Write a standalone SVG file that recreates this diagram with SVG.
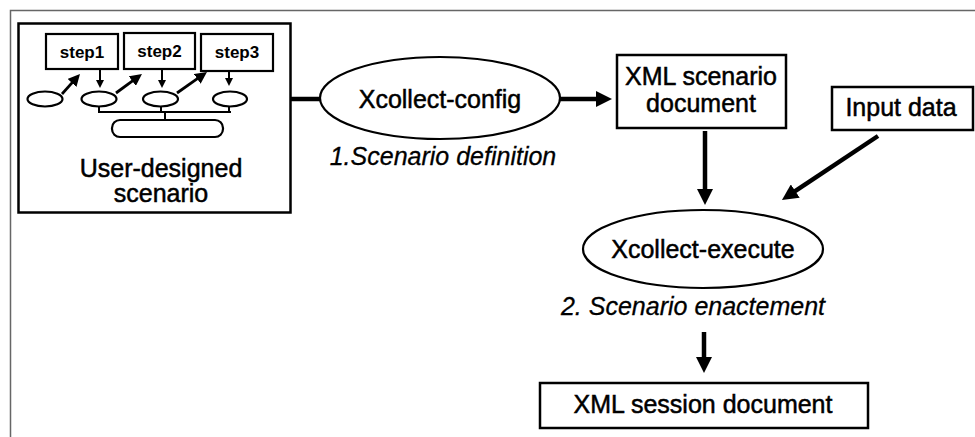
<svg xmlns="http://www.w3.org/2000/svg" width="975" height="437" viewBox="0 0 975 437">
<defs>
<style>
text{font-family:"Liberation Sans",Arial,sans-serif;fill:#000;text-anchor:middle}
.lbl{font-size:25px;stroke:#000;stroke-width:0.5}
.it{font-size:25px;font-style:italic;stroke:#000;stroke-width:0.3}
.step{font-size:17px;font-weight:bold}
.box{fill:#fff;stroke:#000;stroke-width:2.5}
.sbox{fill:#fff;stroke:#000;stroke-width:2.2}
.ell{fill:#fff;stroke:#000;stroke-width:2.2}
.thick{fill:none;stroke:#000;stroke-width:4.5}
.mid{fill:none;stroke:#000;stroke-width:2.8}
.thin{fill:none;stroke:#000;stroke-width:2}
</style>
<marker id="big" viewBox="0 0 16 16" refX="2" refY="8" markerWidth="16" markerHeight="16" markerUnits="userSpaceOnUse" orient="auto"><path d="M0,0 L16,8 L0,16 z" fill="#000"/></marker>
<marker id="med" viewBox="0 0 12 12" refX="2" refY="6" markerWidth="12" markerHeight="12" markerUnits="userSpaceOnUse" orient="auto"><path d="M0,0 L12,6 L0,12 z" fill="#000"/></marker>
<marker id="sm" viewBox="0 0 8 8" refX="1" refY="4" markerWidth="8" markerHeight="8" markerUnits="userSpaceOnUse" orient="auto"><path d="M0,0 L8,4 L0,8 z" fill="#000"/></marker>
</defs>
<rect width="975" height="437" fill="#fff"/>
<path d="M10.5,437 V10.5 H975" fill="none" stroke="#666" stroke-width="1.5"/>
<g id="connectors">
<line class="thick" x1="291" y1="99" x2="320" y2="99"/>
<line class="thick" x1="560" y1="99" x2="598" y2="99" marker-end="url(#big)"/>
<line class="thick" x1="705" y1="131" x2="705" y2="191" marker-end="url(#big)"/>
<line class="thick" x1="878" y1="136" x2="793.6" y2="192.2" marker-end="url(#big)"/>
<line class="thick" x1="704" y1="332" x2="704" y2="359" marker-end="url(#big)"/>
</g>
<g id="user-scenario">
<rect class="box" x="18.5" y="23.5" width="272" height="189" stroke-width="3"/>
<g id="step1"><rect class="sbox" x="46" y="34" width="72" height="35"/><text class="step" x="82" y="58">step1</text></g>
<g id="step2"><rect class="sbox" x="124" y="33" width="71" height="36"/><text class="step" x="159.5" y="57">step2</text></g>
<g id="step3"><rect class="sbox" x="201" y="34" width="72" height="37"/><text class="step" x="237" y="58">step3</text></g>
<ellipse class="ell" cx="45" cy="99" rx="17.5" ry="7.5"/>
<ellipse class="ell" cx="99" cy="99" rx="17.5" ry="7.5"/>
<ellipse class="ell" cx="160.5" cy="99" rx="17.5" ry="7.5"/>
<ellipse class="ell" cx="230" cy="99" rx="17" ry="7.5"/>
<path class="thin" d="M98,112 H231 M99,106.5 V112 M161,106.5 V112 M229,106.5 V112 M165,112 V120"/>
<rect class="sbox" x="112" y="120" width="111" height="17" rx="8"/>
<line class="mid" x1="62" y1="94" x2="73.3" y2="81.4" marker-end="url(#med)"/>
<line class="mid" x1="116" y1="93" x2="133.9" y2="79.9" marker-end="url(#med)"/>
<line class="mid" x1="177" y1="93" x2="198.8" y2="77.7" marker-end="url(#med)"/>
<line class="thin" x1="100" y1="69" x2="100" y2="81" marker-end="url(#sm)"/>
<line class="thin" x1="162" y1="69" x2="162" y2="81" marker-end="url(#sm)"/>
<line class="thin" x1="229" y1="71" x2="229" y2="79" marker-end="url(#sm)"/>
<text class="lbl" x="161" y="177">User-designed</text>
<text class="lbl" x="161" y="202">scenario</text>
</g>
<g id="xcollect-config">
<ellipse class="ell" cx="440" cy="98" rx="120" ry="41"/>
<text class="lbl" x="440" y="108">Xcollect-config</text>
<text class="it" x="443" y="165">1.Scenario definition</text>
</g>
<g id="xml-scenario">
<rect class="box" x="617" y="55" width="169" height="73"/>
<text class="lbl" x="701" y="85">XML scenario</text>
<text class="lbl" x="701" y="112">document</text>
</g>
<g id="input-data">
<rect class="box" x="832" y="87" width="141" height="43"/>
<text class="lbl" x="901" y="116">Input data</text>
</g>
<g id="xcollect-execute">
<ellipse class="ell" cx="703" cy="249" rx="120" ry="39"/>
<text class="lbl" x="703" y="258">Xcollect-execute</text>
<text class="it" x="693" y="315">2. Scenario enactement</text>
</g>
<g id="xml-session">
<rect class="box" x="540" y="383" width="328" height="45"/>
<text class="lbl" x="703" y="413">XML session document</text>
</g>
</svg>
